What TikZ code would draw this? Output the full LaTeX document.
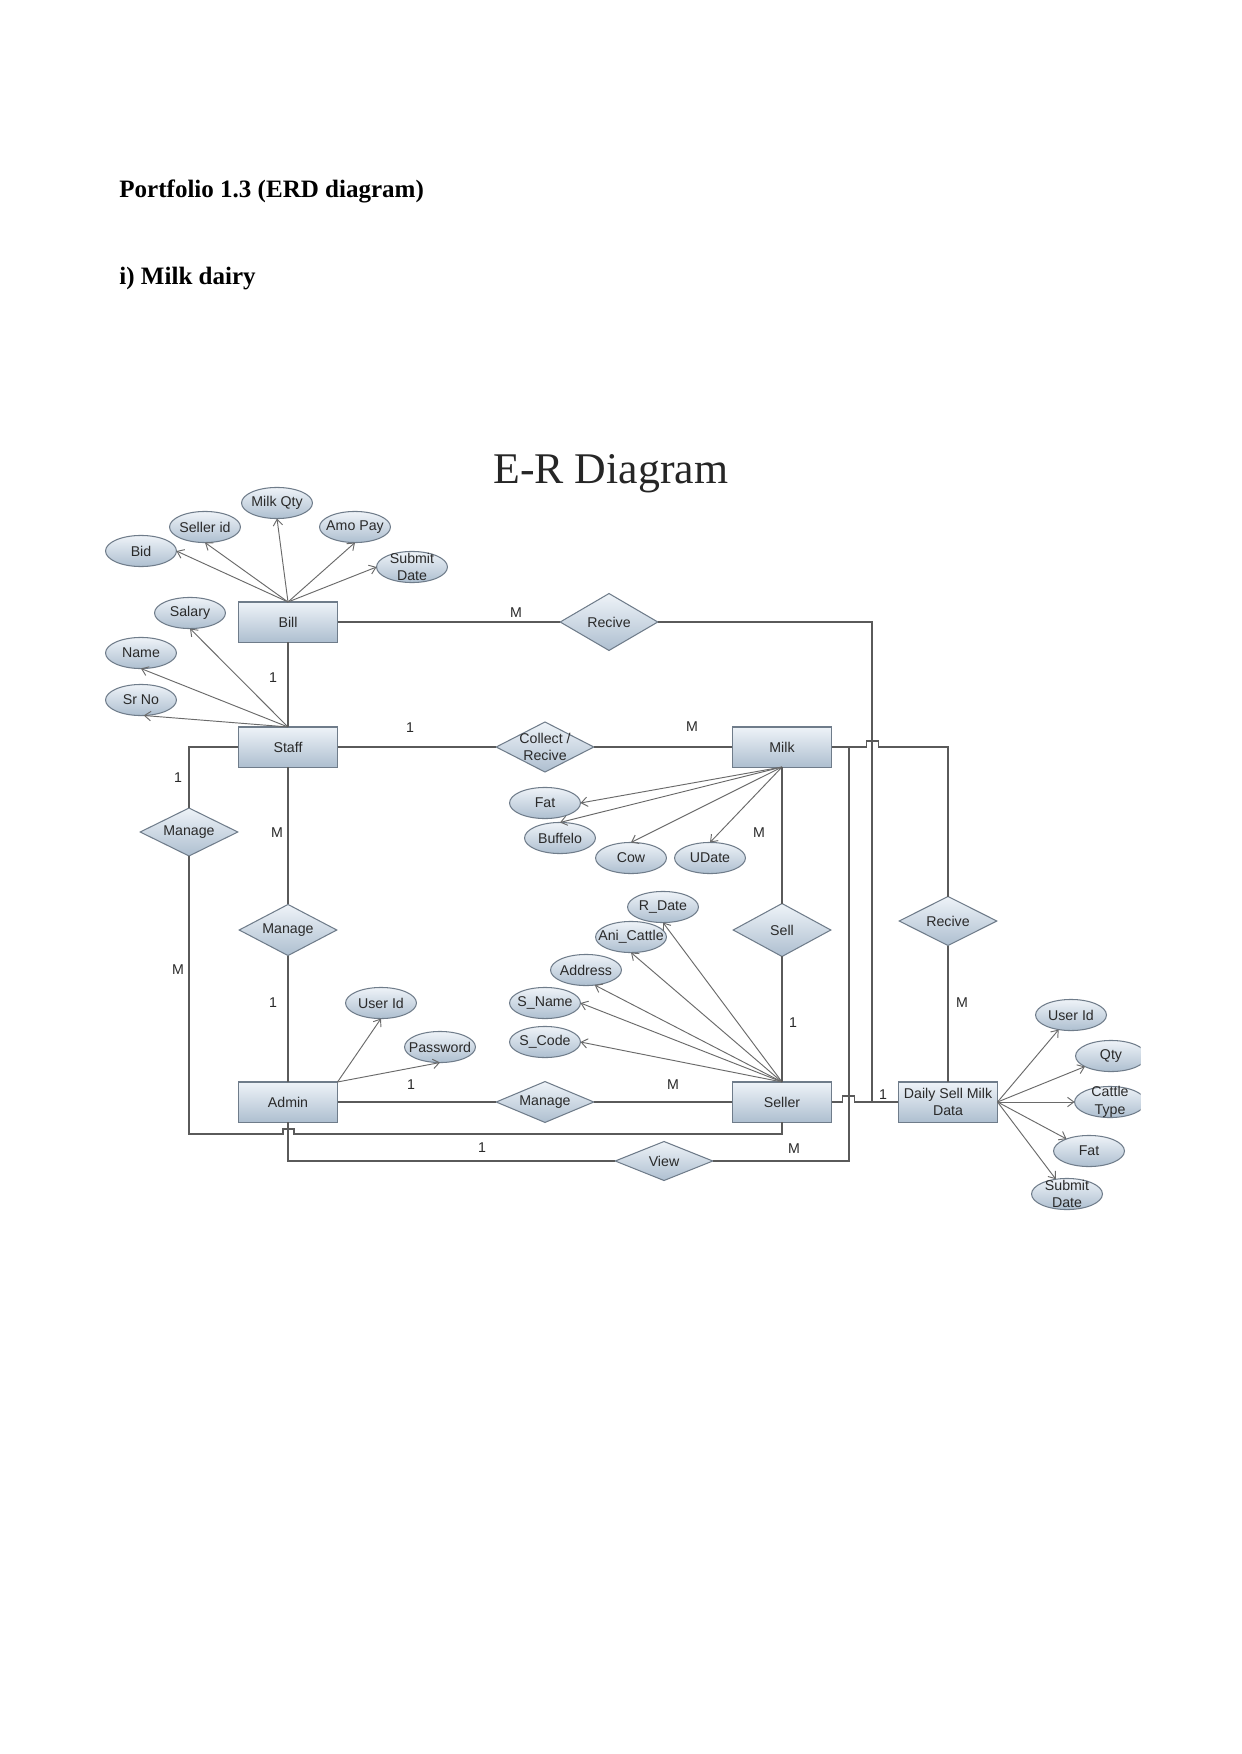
\documentclass[tikz,border=0pt]{standalone}
\usepackage{fontspec}
\setmainfont{Liberation Serif}
\newfontfamily\diafont{Liberation Sans}
\usetikzlibrary{shapes.geometric,arrows.meta}
\definecolor{ftop}{HTML}{EEF3F8}
\definecolor{fbot}{HTML}{AEBFD0}
\definecolor{bdc}{HTML}{6F7C8A}
\definecolor{lnc}{HTML}{5A5A5A}
\definecolor{arc}{HTML}{6A6A6A}
\definecolor{txc}{HTML}{2A2A2A}
\newcommand\ent[3]{\node[entity,label={[txt]center:#3}] (#1) at (#2) {};}
\newcommand\attrib[3]{\node[attr,label={[txt]center:#3}] (#1) at (#2) {};}
\begin{document}
\begin{tikzpicture}[x=0.4795pt,y=-0.4795pt,
  entity/.style={rectangle,draw=bdc,line width=0.5pt,top color=ftop,bottom color=fbot,minimum width=47.5pt,minimum height=19.2pt,inner sep=0pt,outer sep=0pt},
  rel/.style={diamond,draw=bdc,line width=0.5pt,top color=ftop,bottom color=fbot,minimum width=46.8pt,inner sep=0pt,outer sep=0pt},
  attr/.style={ellipse,draw=bdc,line width=0.5pt,top color=ftop,bottom color=fbot,minimum width=34pt,minimum height=14.9pt,inner sep=0pt,outer sep=0pt},
  txt/.style={font=\diafont\fontsize{6.8}{8.4}\selectfont,text=txc,align=center,inner sep=0pt},
  card/.style={font=\diafont\fontsize{6.8}{8}\selectfont,text=txc,inner sep=0pt},
  conn/.style={draw=lnc,line width=0.6pt},
  arr/.style={draw=arc,line width=0.45pt,-{Straight Barb[length=3pt,width=4.5pt]}},
  head/.style={font=\bfseries\fontsize{12}{14}\selectfont,anchor=base west,inner sep=0pt}
]
\useasboundingbox (0,0) rectangle (1241,1754);
\fill[white] (0,0) rectangle (1241,1754);

\node[head] (h1) at (119,198) {Portfolio 1.3 (ERD diagram)};
\node[head] (h2) at (119,285) {i) Milk dairy};
\node[font=\fontsize{21}{24}\selectfont,anchor=base west,inner sep=0pt,text=black!85] (title) at (493,483) {E-R Diagram};

\begin{scope}
\clip (0,0) rectangle (1140.5,1754);
% entities
\ent{bill}{288,622}{Bill}
\ent{staff}{288,747}{Staff}
\ent{milk}{782,747}{Milk}
\ent{admin}{288,1102}{Admin}
\ent{seller}{782,1102}{Seller}
\ent{dsmd}{948,1102}{Daily Sell Milk\\Data}

% relationships
\node[rel,minimum height=27.3pt,label={[txt]center:Recive}] (recive1) at (609,622) {};
\node[rel,minimum height=24pt,label={[txt]center:Collect /\\Recive}] (collect) at (545,747) {};
\node[rel,minimum height=23pt,label={[txt]center:Manage}] (manageL) at (189,832) {};
\node[rel,minimum height=24.5pt,label={[txt]center:Manage}] (manageM) at (288,930) {};
\node[rel,minimum height=25.4pt,label={[txt]center:Sell}] (sell) at (782,930) {};
\node[rel,minimum height=19.6pt,label={[txt]center:Manage}] (manageB) at (545,1102) {};
\node[rel,minimum height=18.7pt,label={[txt]center:View}] (view) at (664,1161) {};
\node[rel,minimum height=23.5pt,label={[txt]center:Recive}] (recive2) at (948,921) {};

% attributes of Bill
\attrib{bid}{141,551}{Bid}
\attrib{sellerid}{205,527}{Seller id}
\attrib{milkqty}{277,503}{Milk Qty}
\attrib{amopay}{355,527}{Amo Pay}
\attrib{subdate}{412,567}{Submit\\Date}
% attributes of Staff
\attrib{salary}{190,613}{Salary}
\attrib{name}{141,653}{Name}
\attrib{srno}{141,700}{Sr No}
% attributes of Milk
\attrib{fat}{545,803}{Fat}
\attrib{buffelo}{560,838}{Buffelo}
\attrib{cow}{631,858}{Cow}
\attrib{udate}{710,858}{UDate}
% attributes of Seller
\attrib{rdate}{663,907}{R\_Date}
\attrib{anicattle}{631,937}{Ani\_Cattle}
\attrib{address}{586,970}{Address}
\attrib{sname}{545,1003}{S\_Name}
\attrib{scode}{545,1042}{S\_Code}
% attributes of Admin
\attrib{userid}{381,1003}{User Id}
\attrib{password}{440,1047}{Password}
% attributes of Daily Sell Milk Data
\attrib{userid2}{1071,1015}{User Id}
\attrib{qty}{1111,1056}{Qty}
\attrib{cattle}{1110,1102}{Cattle\\Type}
\attrib{fat2}{1089,1151}{Fat}
\attrib{subdate2}{1067,1194}{Submit\\Date}

% attribute lines
\draw[arr] (bill.north) -- (bid.east);
\draw[arr] (bill.north) -- (sellerid.south);
\draw[arr] (bill.north) -- (milkqty.south);
\draw[arr] (bill.north) -- (amopay.south);
\draw[arr] (bill.north) -- (subdate.west);
\draw[arr] (staff.north) -- (salary.south);
\draw[arr] (staff.north) -- (name.south);
\draw[arr] (staff.north) -- (srno.-80);
\draw[arr] (milk.south) -- (fat.east);
\draw[arr] (milk.south) -- (buffelo.north);
\draw[arr] (milk.south) -- (cow.north);
\draw[arr] (milk.south) -- (udate.north);
\draw[arr] (seller.north) -- (rdate.south);
\draw[arr] (seller.north) -- (anicattle.south);
\draw[arr] (seller.north) -- (address.-60);
\draw[arr] (seller.north) -- (sname.east);
\draw[arr] (seller.north) -- (scode.east);
\draw[arr] (admin.north east) -- (userid.south);
\draw[arr] (admin.north east) -- (password.south);
\draw[arr] (dsmd.east) -- (userid2);
\draw[arr] (dsmd.east) -- (qty);
\draw[arr] (dsmd.east) -- (cattle.west);
\draw[arr] (dsmd.east) -- (fat2);
\draw[arr] (dsmd.east) -- (subdate2);

% junction coordinates
\coordinate (j1) at (872,1102);
\coordinate (j2) at (849,747);
\coordinate (b1) at (189,1134);

% relationship connectors
\draw[conn] (bill.east) -- (recive1.west);
\draw[conn] (recive1.east) -- (recive1.east -| j1) -- (j1);
\draw[conn] (staff.east) -- (collect.west);
\draw[conn] (collect.east) -- (milk.west);
\draw[conn] (milk.east) -- ++(35,0) -- ++(0,-6) -- ++(12,0) -- ++(0,6) -- (recive2.north |- milk.east) -- (recive2.north);
\draw[conn] (recive2.south) -- (dsmd.north);
\draw[conn] (bill.south) -- (staff.north);
\draw[conn] (staff.south) -- (manageM.north);
\draw[conn] (manageM.south) -- (admin.north);
\draw[conn] (staff.west) -- (staff.west -| manageL.north) -- (manageL.north);
\draw[conn] (manageL.south) -- (b1) -- ++(94,0) -- ++(0,-5) -- ++(11,0) -- ++(0,5) -- (seller.south |- b1) -- (seller.south);
\draw[conn] (admin.east) -- (manageB.west);
\draw[conn] (manageB.east) -- (seller.west);
\draw[conn] (milk.south) -- (sell.north);
\draw[conn] (sell.south) -- (seller.north);
\draw[conn] (admin.south) -- (admin.south |- view.west) -- (view.west);
\draw[conn] (view.east) -- (view.east -| j2) -- (j2);
\draw[conn] (seller.east) -- ++(11,0) -- ++(0,-6) -- ++(12,0) -- ++(0,6) -- (dsmd.west);

% cardinalities
\node[card] (c1) at (516,613) {M};
\node[card] (c2) at (410,728) {1};
\node[card] (c3) at (692,727) {M};
\node[card] (c4) at (273,678) {1};
\node[card] (c5) at (178,778) {1};
\node[card] (c6) at (277,833) {M};
\node[card] (c7) at (759,833) {M};
\node[card] (c8) at (178,970) {M};
\node[card] (c9) at (273,1003) {1};
\node[card] (c10) at (962,1003) {M};
\node[card] (c11) at (793,1023) {1};
\node[card] (c12) at (411,1085) {1};
\node[card] (c13) at (673,1085) {M};
\node[card] (c14) at (883,1095) {1};
\node[card] (c15) at (482,1148) {1};
\node[card] (c16) at (794,1149) {M};
\end{scope}
\end{tikzpicture}
\end{document}
